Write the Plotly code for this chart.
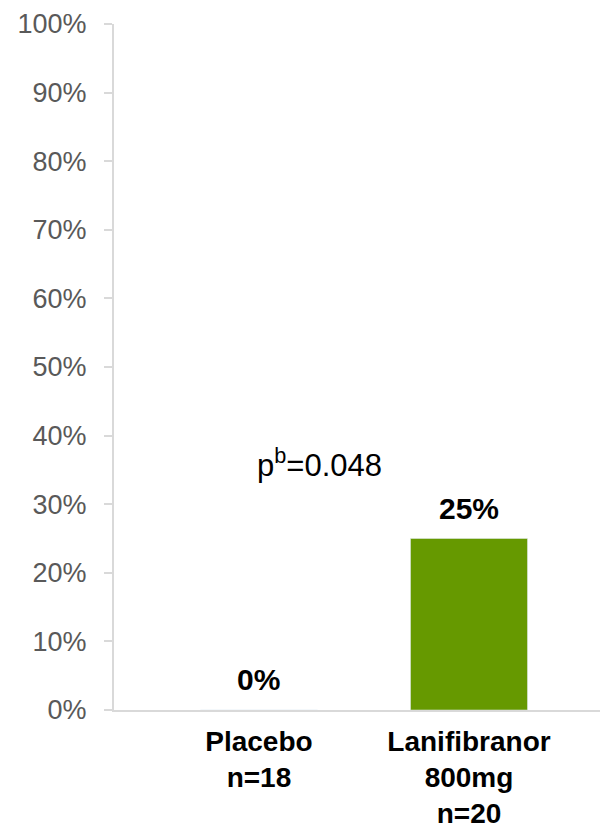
import plotly.graph_objects as go

categories = ["Placebo<br>n=18", "Lanifibranor<br>800mg<br>n=20"]
values = [0, 25]
value_labels = ["0%", "25%"]
y_ticks = [0, 10, 20, 30, 40, 50, 60, 70, 80, 90, 100]
y_ticktext = [f"{v}%" for v in y_ticks]
p_text = "p<sup>b</sup>=0.048"
p_pos = (0.29, 36)

fig = go.Figure()
fig.add_trace(go.Bar(
    x=[0, 1], y=values, marker_color="#669900", width=0.557,
    hoverinfo="skip",
))

for i, (v, lab) in enumerate(zip(values, value_labels)):
    fig.add_annotation(x=i, y=v, text=f"<b>{lab}</b>", showarrow=False,
                       yanchor="bottom", yshift=12,
                       font=dict(family="Liberation Sans, Arial", size=30, color="#000000"))

fig.add_annotation(x=p_pos[0], y=p_pos[1], text=p_text, showarrow=False,
                   xanchor="center", yanchor="middle",
                   font=dict(family="Liberation Sans, Arial", size=31, color="#000000"))

# page body has an 8px default margin; compensate so the figure lands like the reference
fig.update_layout(
    width=600, height=821,
    margin=dict(l=106, r=1, t=16, b=119),
    paper_bgcolor="white", plot_bgcolor="white",
    showlegend=False,
    font=dict(family="Liberation Sans, Arial"),
)
fig.update_xaxes(
    range=[-0.69, 1.657],
    tickmode="array", tickvals=[0, 1],
    ticktext=[f"<b>{c}</b>" for c in categories],
    tickfont=dict(size=28, color="#000000"),
    showline=True, linecolor="#d9d9d9", linewidth=2,
    ticks="", showgrid=False, zeroline=False,
    ticklabelstandoff=5, automargin=False,
)
fig.update_yaxes(
    range=[0, 100],
    tickmode="array", tickvals=y_ticks, ticktext=y_ticktext,
    tickfont=dict(size=27, color="#595959"),
    showline=True, linecolor="#d9d9d9", linewidth=2,
    ticks="outside", ticklen=8, tickcolor="#d9d9d9", tickwidth=2,
    showgrid=False, zeroline=False,
    ticklabelstandoff=12, automargin=False,
)

fig.write_html("out.html")
